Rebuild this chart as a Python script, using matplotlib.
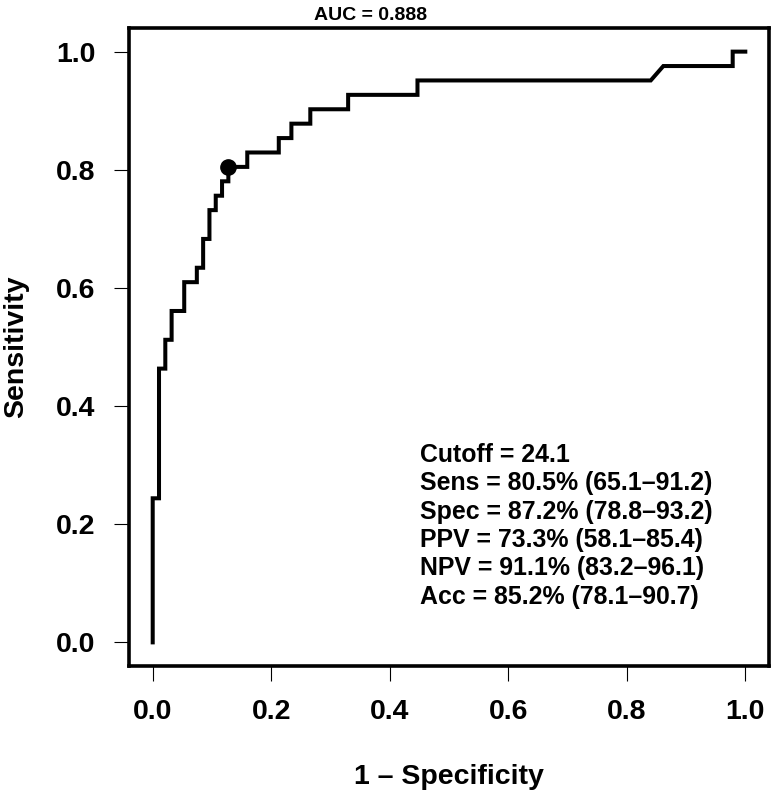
import numpy as np
import matplotlib.pyplot as plt

# DATOS DE LA CURVA ROC (conteos)
n_neg = 94
n_pos = 41

fp_counts = np.array([
    0, 0, 1, 1, 2, 2, 3, 3, 5, 5, 7, 7, 8, 8, 9, 9, 10, 10, 11, 11,
    12, 12, 15, 15, 20, 20, 22, 22, 25, 25, 31, 31, 42, 42, 79, 81, 92, 92, 94
])

tp_counts = np.array([
    0, 10, 10, 19, 19, 21, 21, 23, 23, 25, 25, 26, 26, 28, 28, 30, 30, 31, 31, 32,
    32, 33, 33, 34, 34, 35, 35, 36, 36, 37, 37, 38, 38, 39, 39, 40, 40, 41, 41
])

fpr = fp_counts / n_neg
tpr = tp_counts / n_pos

# punto de corte optimo
cut_fpr = 12 / n_neg
cut_tpr = 33 / n_pos

auc_text = "AUC = 0.888"
stats_lines = [
    "Cutoff = 24.1",
    "Sens = 80.5% (65.1\u201391.2)",
    "Spec = 87.2% (78.8\u201393.2)",
    "PPV = 73.3% (58.1\u201385.4)",
    "NPV = 91.1% (83.2\u201396.1)",
    "Acc = 85.2% (78.1\u201390.7)",
]

xticks = [0.0, 0.2, 0.4, 0.6, 0.8, 1.0]
yticks = [0.0, 0.2, 0.4, 0.6, 0.8, 1.0]

plt.rcParams['font.family'] = ['Liberation Sans', 'DejaVu Sans']
plt.rcParams['font.weight'] = 'bold'

fig = plt.figure(figsize=(7.73, 7.99), dpi=100)
ax = fig.add_axes([129 / 773, 1 - 666 / 799, 640 / 773, 638 / 799])

ax.plot(fpr, tpr, color="black", linewidth=2.9, solid_joinstyle="miter")
ax.plot(cut_fpr, cut_tpr, "o", color="black", markersize=11)

ax.set_xlim(-0.04, 1.04)
ax.set_ylim(-0.04, 1.04)
ax.set_xticks(xticks)
ax.set_yticks(yticks)
ax.set_xticklabels([f"{t:.1f}" for t in xticks], fontsize=20.5, fontweight="bold")
ax.set_yticklabels([f"{t:.1f}" for t in yticks], fontsize=20.5, fontweight="bold")
ax.tick_params(axis="both", length=11, width=0.8, direction="out")
ax.tick_params(axis="x", pad=13)
ax.tick_params(axis="y", pad=13)

for sp in ax.spines.values():
    sp.set_linewidth(2.6)

ax.set_xlabel("1 \u2013 Specificity", fontsize=20.5, fontweight="bold")
ax.set_ylabel("Sensitivity", fontsize=20.5, fontweight="bold")
ax.xaxis.set_label_coords(449 / 773, 1 - 764 / 799, transform=fig.transFigure)
ax.yaxis.set_label_coords(29 / 773, 1 - 347 / 799, transform=fig.transFigure)

# bloque de estadisticas
y0 = 0.306
dy = 0.0482
for i, line in enumerate(stats_lines):
    ax.text(0.451, y0 - i * dy, line, fontsize=17.9, fontweight="bold",
            ha="left", va="baseline")

fig.text(371 / 773, 1 - 20 / 799, auc_text, fontsize=14, fontweight="bold",
         ha="center", va="baseline")

fig.savefig("out.png", dpi=100)
plt.close()
